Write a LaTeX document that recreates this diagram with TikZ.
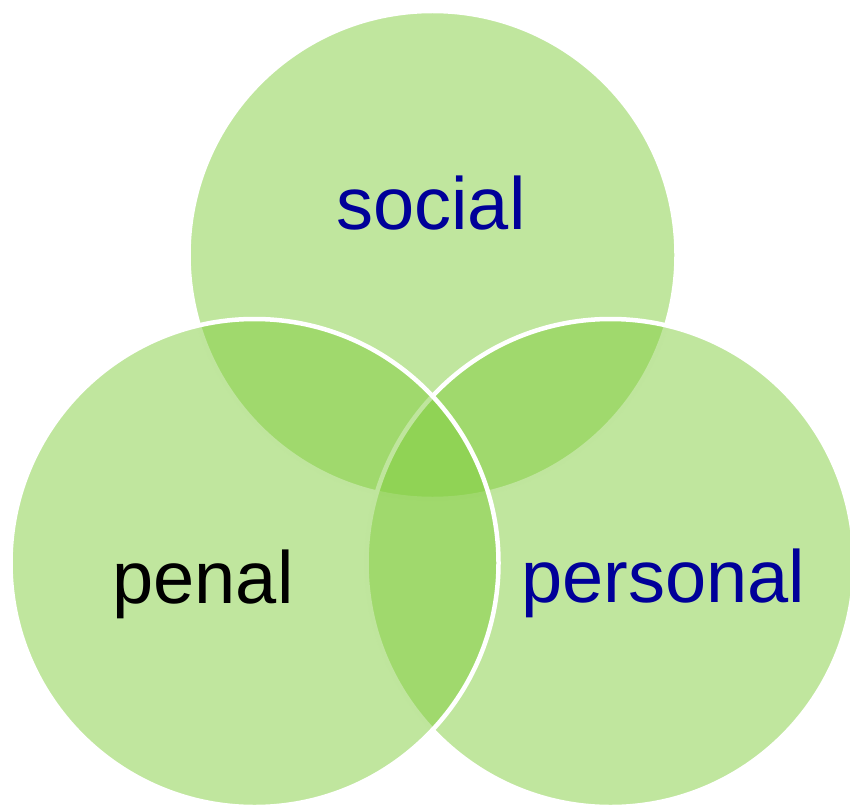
\documentclass[tikz,border=0pt]{standalone}
\usepackage{fontspec}
\setmainfont{Liberation Sans}
\definecolor{vgreen}{RGB}{129,205,61}
\definecolor{vblue}{RGB}{0,0,153}
\tikzset{
  venn/.style={circle, minimum size=488pt, inner sep=0pt, fill=vgreen, fill opacity=0.5, draw=white, draw opacity=1, line width=4.5pt},
  lbl/.style={anchor=base, inner sep=0pt, font=\fontsize{74}{88}\selectfont}
}
\begin{document}
\begin{tikzpicture}[x=1pt,y=-1pt]
\useasboundingbox (0,0) rectangle (850,805);
\node[venn] (social) at (432.5,255) {};
\node[venn] (personal) at (610.5,563) {};
\node[venn] (penal) at (254.5,563) {};
\node[lbl, text=vblue] (tsocial) at (431,229) {social};
\node[lbl, text=black] (tpenal) at (203,603) {penal};
\node[lbl, text=vblue] (tpersonal) at (663,602) {personal};
\end{tikzpicture}
\end{document}
